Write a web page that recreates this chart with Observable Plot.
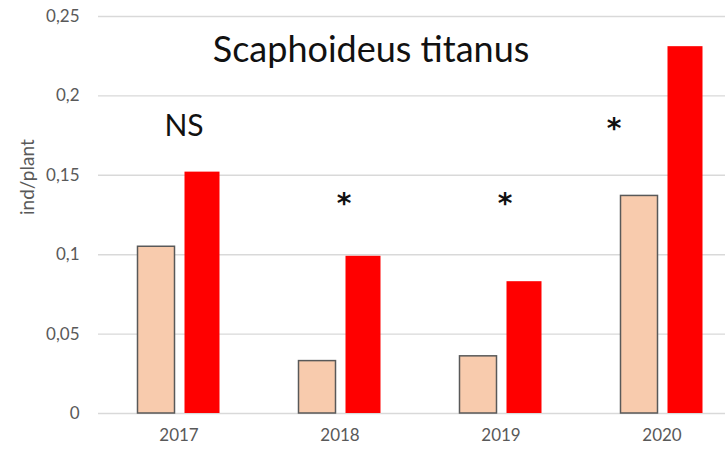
<!DOCTYPE html>
<html>
<head>
<meta charset="utf-8">
<script src="https://cdn.jsdelivr.net/npm/d3@7"></script>
<script src="https://cdn.jsdelivr.net/npm/@observablehq/plot@0.6"></script>
<style>
  html, body { margin: 0; padding: 0; background: #fff; }
  #chart svg { display: block; }
</style>
</head>
<body>
<div id="chart"></div>
<script>
const years = ["2017", "2018", "2019", "2020"];
const controlValues = [0.105, 0.033, 0.036, 0.137];
const treatedValues = [0.152, 0.099, 0.083, 0.231];
const yTicks = [0, 0.05, 0.1, 0.15, 0.2, 0.25];
const nsYears = ["2017"];
const nsLabels = ["NS"];
const nsY = [0.181];
const starYears = ["2018", "2019"];
const starLabels = ["*", "*"];
const starY = [0.135, 0.135];
const star2020Years = ["2020"];
const star2020Labels = ["*"];
const star2020Y = [0.182];
const title = "Scaphoideus titanus";
const yLabel = "ind/plant";

const control = years.map((year, i) => ({year, value: controlValues[i]}));
const treated = years.map((year, i) => ({year, value: treatedValues[i]}));
const ns = nsYears.map((year, i) => ({year, label: nsLabels[i], y: nsY[i]}));
const stars = starYears.map((year, i) => ({year, label: starLabels[i], y: starY[i]}));
const stars2020 = star2020Years.map((year, i) => ({year, label: star2020Labels[i], y: star2020Y[i]}));

const fmt = d => d === 0 ? "0" : String(d).replace(".", ",");

const chart = Plot.plot({
  width: 725,
  height: 453,
  marginLeft: 98,
  marginRight: 0,
  marginTop: 16,
  marginBottom: 40,
  style: {fontFamily: "Lato, 'Open Sans', sans-serif", background: "#fff"},
  x: {domain: years, range: [97.5, 741.5], padding: 0},
  y: {domain: [0, 0.25]},
  marks: [
    Plot.ruleY(yTicks, {stroke: "#d9d9d9", strokeWidth: 1.4}),
    Plot.barY(control, {x: "year", y: "value", fill: "#f8cbad", stroke: "#595959", strokeWidth: 1.5, insetLeft: 39.5, insetRight: 84.5}),
    Plot.barY(treated, {x: "year", y: "value", fill: "#ff0000", insetLeft: 86.5, insetRight: 39.5}),
    Plot.axisY(yTicks, {tickSize: 0, tickPadding: 19, tickFormat: fmt, fontSize: 17, fill: "#595959", label: null}),
    Plot.axisX({tickSize: 0, tickPadding: 15, fontSize: 17, fill: "#595959", label: null}),
    Plot.text([yLabel], {frameAnchor: "left", rotate: -90, dx: -71, fontSize: 19, fill: "#595959"}),
    Plot.text(ns, {x: "year", y: "y", text: "label", dx: 5, fontSize: 30, fill: "#111"}),
    Plot.text(stars, {x: "year", y: "y", text: "label", dx: 4, dy: 5, fontSize: 28, fontFamily: "DejaVu Sans", fontWeight: "bold", fill: "#111"}),
    Plot.text(stars2020, {x: "year", y: "y", text: "label", dx: -48, dy: 5, fontSize: 28, fontFamily: "DejaVu Sans", fontWeight: "bold", fill: "#111"}),
    Plot.text([title], {frameAnchor: "top", dx: -41, dy: 20, fontSize: 36, fill: "#111"})
  ]
});
document.getElementById("chart").appendChild(chart);
</script>
</body>
</html>
